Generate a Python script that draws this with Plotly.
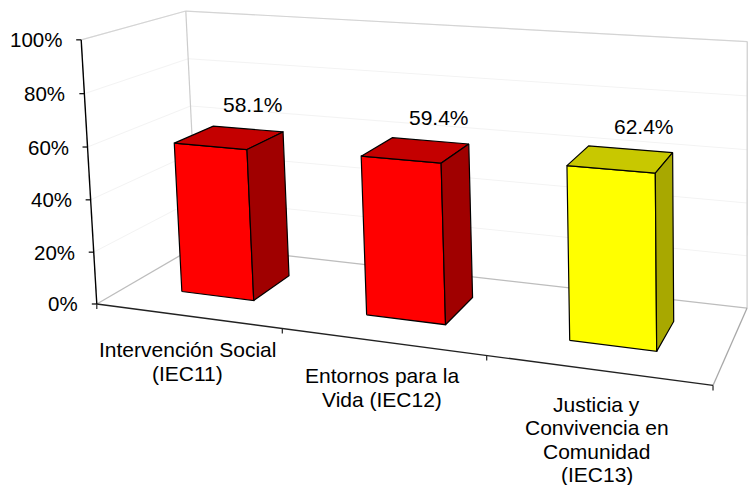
import numpy as np
import plotly.graph_objects as go

# ---------------- data ----------------
categories = ["Intervención Social<br>(IEC11)", "Entornos para la<br>Vida (IEC12)",
              "Justicia y<br>Convivencia en<br>Comunidad<br>(IEC13)"]
values = [58.1, 59.4, 62.4]
tick_values = [0, 20, 40, 60, 80, 100]
tick_labels = ["0%", "20%", "40%", "60%", "80%", "100%"]
bar_colors = ["#FF0000", "#FF0000", "#FFFF00"]
top_colors = ["#C40000", "#C40000", "#C8C800"]
side_colors = ["#A00000", "#A00000", "#A8A800"]

# ---------------- 3-D view (perspective camera, world -> plot units) ----------------
# world: X = category axis (0..n), Y = depth (0 front .. 1 back), Z = value fraction (0..1)
CAMERA = np.array([
    [172.471, 126.243, -17.5233, 96.7954],
    [9.3407, -26.6895, -265.087, 303.989],
    [-0.0461918, 0.129708, -0.0236406, 1.0],
])
HALF_WIDTH = 0.2     # bar half width in category units
Y_FRONT, Y_BACK = 0.3, 0.7
FONT = "Liberation Sans, Arial, sans-serif"
n = len(categories)


def proj(X, Y, Z):
    h = CAMERA @ np.array([X, Y, Z, 1.0])
    return h[0] / h[2], h[1] / h[2]


fig = go.Figure()


def seg(a, b, color, width):
    fig.add_trace(go.Scatter(x=[a[0], b[0]], y=[a[1], b[1]], mode="lines",
                             line=dict(color=color, width=width), hoverinfo="skip"))


def line3(p0, p1, color, width):
    seg(proj(*p0), proj(*p1), color, width)


def face(corners, color):
    xy = [proj(*c) for c in corners]
    xs = [p[0] for p in xy] + [xy[0][0]]
    ys = [p[1] for p in xy] + [xy[0][1]]
    fig.add_trace(go.Scatter(x=xs, y=ys, mode="lines", fill="toself", fillcolor=color,
                             line=dict(color="black", width=1.2), hoverinfo="skip"))


# faint gridlines on the walls
for t in tick_values[1:]:
    z = t / 100
    line3((0, 1, z), (n, 1, z), "#f3f3f3", 1)
    line3((0, 0, z), (0, 1, z), "#f3f3f3", 1)

# walls and floor outline
line3((0, 1, 1), (n, 1, 1), "#d4d4d4", 1.2)
line3((0, 0, 1), (0, 1, 1), "#d4d4d4", 1.2)
line3((0, 1, 0), (0, 1, 1), "#cccccc", 1.2)
line3((n, 1, 0), (n, 1, 1), "#cccccc", 1.2)
line3((0, 1, 0), (n, 1, 0), "#bdbdbd", 1.3)
line3((0, 0, 0), (0, 1, 0), "#bdbdbd", 1.3)
line3((n, 0, 0), (n, 1, 0), "#a8a8a8", 1.3)
line3((0, 0, 0), (0, 0, 1), "#000000", 1.4)
line3((0, 0, 0), (n, 0, 0), "#222222", 1.4)

# value axis ticks and labels
for t, lab in zip(tick_values, tick_labels):
    u, v = proj(0, 0, t / 100)
    seg((u, v), (u - 5, v), "#000000", 1.2)
    fig.add_annotation(x=u, y=v, xref="x", yref="y", text=lab, showarrow=False,
                       xanchor="right", yanchor="middle", xshift=-17,
                       font=dict(family=FONT, size=20.5, color="black"))

# category axis ticks
for k in range(n + 1):
    u, v = proj(k, 0, 0)
    seg((u, v), (u, v + 5), "#222222", 1.2)

# bars (front, top, right side) and data labels
for i, val in enumerate(values):
    z = val / 100
    x0, x1 = i + 0.5 - HALF_WIDTH, i + 0.5 + HALF_WIDTH
    face([(x0, Y_FRONT, 0), (x1, Y_FRONT, 0), (x1, Y_FRONT, z), (x0, Y_FRONT, z)], bar_colors[i])
    face([(x0, Y_FRONT, z), (x1, Y_FRONT, z), (x1, Y_BACK, z), (x0, Y_BACK, z)], top_colors[i])
    face([(x1, Y_FRONT, 0), (x1, Y_BACK, 0), (x1, Y_BACK, z), (x1, Y_FRONT, z)], side_colors[i])
    u, w = proj(i + 0.5, 0.5, z)
    fig.add_annotation(x=u, y=w, xref="x", yref="y", text="%.1f%%" % val, showarrow=False,
                       xanchor="center", yanchor="middle", xshift=23.5, yshift=32.5,
                       font=dict(family=FONT, size=21, color="black"))

# category labels
for i, cat in enumerate(categories):
    u, w = proj(i + 0.5, 0, 0)
    for k, part in enumerate(cat.split("<br>")):
        fig.add_annotation(x=u, y=w + 34 + 23.5 * k, xref="x", yref="y", text=part, showarrow=False,
                           xanchor="center", yanchor="middle",
                           font=dict(family=FONT, size=21, color="black"))

fig.update_layout(width=752, height=485, margin=dict(l=0, r=0, t=0, b=0),
                  paper_bgcolor="white", plot_bgcolor="white", showlegend=False,
                  xaxis=dict(range=[0, 752], visible=False),
                  yaxis=dict(range=[485, 0], visible=False))
fig.write_html("out.html", config={"displayModeBar": False},
               post_script="document.body.style.margin='0';")
